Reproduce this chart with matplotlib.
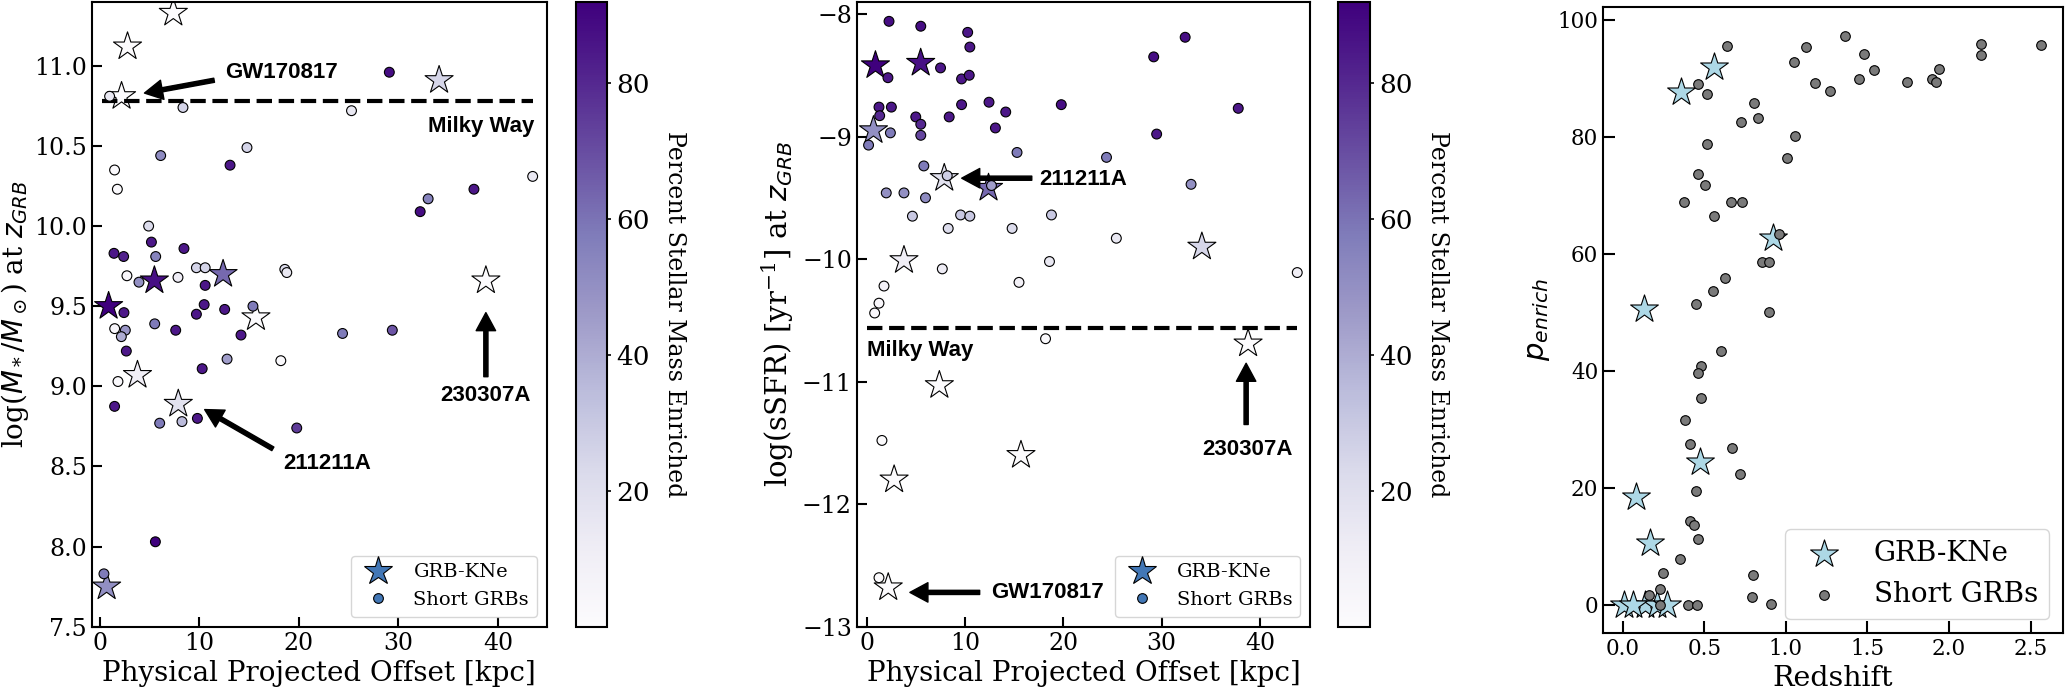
import matplotlib
matplotlib.use("Agg")
import matplotlib.pyplot as plt
from matplotlib.colors import Normalize
from matplotlib.lines import Line2D

# ---- GRB-KNe (stars), same 12 events in all three panels ----
kne_offset = [7.4, 2.8, 2.2, 34.1, 5.5, 12.4, 0.9, 15.7, 38.8, 3.8, 7.9, 0.7]
kne_logmass = [11.33, 11.12, 10.81, 10.91, 9.66, 9.70, 9.50, 9.43, 9.66, 9.07, 8.89, 7.75]
kne_ssfr = [-11.03, -11.80, -12.68, -9.90, -8.40, -9.42, -8.42, -11.60, -10.69, -10.01, -9.34, -8.95]
kne_penrich = [0, 0, 0, 24.5, 87.6, 62.7, 92.0, 0, 0, 10.5, 18.5, 50.5]
kne_redshift = [0.14, 0.21, 0.01, 0.476, 0.358, 0.919, 0.557, 0.27, 0.065, 0.165, 0.079, 0.13]

# ---- short GRBs (circles), mass panel ----
sgrb_offset_m = [1.0, 8.37, 29.1, 25.3, 6.13, 14.8, 13.1, 1.5, 1.78, 4.92, 5.2, 1.44, 2.41,
                 5.63, 8.47, 2.74, 3.95, 7.87, 9.72, 10.6, 10.6, 18.6, 18.8, 10.5, 9.72, 12.56,
                 15.4, 2.44, 5.53, 7.64, 14.2, 24.4, 29.4, 1.51, 2.58, 2.18, 2.68, 12.8, 18.2,
                 10.3, 1.84, 1.5, 6.03, 8.27, 9.82, 19.8, 5.6, 0.43, 43.5, 37.6, 33.0, 32.2]
sgrb_logmass = [10.81, 10.74, 10.96, 10.72, 10.44, 10.49, 10.38, 10.35, 10.23, 10.00, 9.90, 9.83,
                9.81, 9.81, 9.86, 9.69, 9.65, 9.68, 9.74, 9.74, 9.63, 9.73, 9.71, 9.51, 9.45,
                9.48, 9.50, 9.46, 9.39, 9.35, 9.32, 9.33, 9.35, 9.36, 9.35, 9.31, 9.22, 9.17,
                9.16, 9.11, 9.03, 8.875, 8.77, 8.78, 8.80, 8.74, 8.03, 7.83, 10.31, 10.23,
                10.17, 10.09]
sgrb_enrich_m = [15, 25, 88, 15, 52, 25, 85, 2, 2, 22, 85, 85, 82, 55, 85, 3, 50, 12, 25, 25,
                 85, 22, 15, 85, 85, 85, 58, 85, 58, 85, 85, 58, 68, 5, 48, 40, 85, 45, 2, 85,
                 2, 85, 58, 35, 85, 75, 92, 58, 15, 85, 55, 88]

# ---- short GRBs (circles), sSFR panel ----
sgrb_offset_s = [2.28, 5.51, 10.28, 10.5, 7.52, 9.66, 10.44, 2.17, 1.26, 2.52, 1.33, 5.0, 5.51,
                 5.51, 8.4, 9.66, 12.45, 14.15, 13.1, 2.42, 0.2, 5.82, 8.2, 2.0, 3.8, 5.99,
                 12.7, 15.3, 4.66, 9.56, 10.5, 8.3, 14.8, 7.7, 1.77, 1.26, 0.82, 15.5, 1.56,
                 1.26, 19.8, 32.4, 29.2, 37.8, 29.5, 24.4, 33.0, 18.8, 25.4, 18.6, 43.8, 18.2]
sgrb_ssfr = [-8.06, -8.10, -8.15, -8.27, -8.44, -8.53, -8.50, -8.52, -8.76, -8.76, -8.83, -8.84,
             -8.90, -8.99, -8.84, -8.74, -8.72, -8.80, -8.93, -8.97, -9.07, -9.24, -9.32, -9.46,
             -9.46, -9.50, -9.40, -9.13, -9.65, -9.64, -9.65, -9.75, -9.75, -10.08, -10.22,
             -10.36, -10.44, -10.19, -11.48, -12.60, -8.74, -8.19, -8.35, -8.77, -8.98, -9.17,
             -9.39, -9.64, -9.83, -10.02, -10.11, -10.65]
sgrb_enrich_s = [88, 88, 85, 85, 85, 85, 85, 85, 85, 85, 80, 85, 80, 72, 85, 85, 85, 85, 85, 58,
                 58, 58, 28, 50, 50, 52, 45, 58, 30, 30, 30, 22, 22, 12, 8, 3, 3, 8, 1, 1, 88,
                 88, 88, 85, 85, 58, 50, 30, 15, 15, 10, 2]

# ---- short GRBs (circles), redshift panel ----
sgrb_redshift = [0.638, 0.462, 0.52, 0.807, 0.831, 0.724, 1.059, 1.008, 0.52, 0.462, 0.502, 0.374,
                 0.663, 0.73, 0.561, 0.957, 0.856, 0.898, 0.628, 0.551, 0.451, 0.898, 0.602,
                 1.126, 1.049, 1.177, 1.366, 1.482, 1.543, 1.451, 1.268, 1.742, 1.898, 1.939,
                 1.923, 2.199, 2.199, 2.565, 0.482, 0.46, 0.482, 0.669, 0.72, 0.451, 0.41, 0.435,
                 0.462, 0.384, 0.41, 0.354, 0.246, 0.226, 0.16, 0.226, 0.40, 0.455, 0.797, 0.791,
                 0.909]
sgrb_penrich = [95.6, 89.0, 87.3, 85.8, 83.2, 82.5, 80.2, 76.4, 78.8, 73.6, 71.7, 68.8, 68.9, 68.9,
                66.4, 63.4, 58.7, 58.7, 55.8, 53.7, 51.5, 50.0, 43.4, 95.3, 92.8, 89.2, 97.2, 94.2,
                91.4, 89.9, 87.8, 89.3, 89.9, 91.6, 89.3, 95.8, 94.0, 95.7, 40.8, 39.7, 35.4, 26.9,
                22.3, 19.5, 14.4, 13.7, 11.2, 31.6, 27.5, 7.9, 5.4, 2.8, 1.7, 0, 0, 0, 5.1, 1.4,
                0.1]

milky_way_logmass = 10.78
milky_way_ssfr = -10.56

plt.rcParams["font.family"] = "serif"
plt.rcParams["font.serif"] = ["DejaVu Serif"]
plt.rcParams["mathtext.fontset"] = "custom"
plt.rcParams["mathtext.rm"] = "DejaVu Serif"
plt.rcParams["mathtext.it"] = "DejaVu Sans:italic"
plt.rcParams["mathtext.bf"] = "DejaVu Sans:bold"

cmap = plt.get_cmap("Purples")
norm = Normalize(vmin=0, vmax=92)
bold = dict(family="Liberation Sans", weight="bold", fontsize=16)
arrow = dict(facecolor="black", edgecolor="black", width=3, headwidth=14,
             headlength=13, shrink=0)
legend_blue = "#4277b6"

fig = plt.figure(figsize=(20.65, 6.89), dpi=100)
ax1 = fig.add_axes([0.0444, 0.0904, 0.2203, 0.9071])
cax1 = fig.add_axes([0.2789, 0.0904, 0.0150, 0.9071])
ax2 = fig.add_axes([0.4149, 0.0904, 0.2195, 0.9071])
cax2 = fig.add_axes([0.6479, 0.0904, 0.0155, 0.9071])
ax3 = fig.add_axes([0.7763, 0.0813, 0.2228, 0.9085])


def style_axes(ax, size, length):
    ax.tick_params(direction="in", length=length, width=1.5, labelsize=size,
                   top=False, right=False)
    for sp in ax.spines.values():
        sp.set_linewidth(1.5)


def kne_legend(ax):
    handles = [
        Line2D([], [], ls="none", marker="*", ms=21, mfc=legend_blue, mec="black", mew=0.8),
        Line2D([], [], ls="none", marker="o", ms=7, mfc=legend_blue, mec="black", mew=0.8),
    ]
    ax.legend(handles, ["GRB-KNe", "Short GRBs"], loc="lower right", fontsize=14)


def colorbar(sc, cax):
    cb = fig.colorbar(sc, cax=cax)
    cb.set_ticks([20, 40, 60, 80])
    cax.tick_params(labelsize=19, length=3, width=1.2)
    cb.outline.set_linewidth(1.5)
    cb.set_label("Percent Stellar Mass Enriched", rotation=270, labelpad=26, fontsize=17)


# ---------------- panel 1: stellar mass ----------------
ax1.scatter(kne_offset, kne_logmass, c=kne_penrich, cmap=cmap, norm=norm, marker="*",
            s=450, edgecolors="black", linewidths=0.8, zorder=2)
sc1 = ax1.scatter(sgrb_offset_m, sgrb_logmass, c=sgrb_enrich_m, cmap=cmap, norm=norm,
                  marker="o", s=50, edgecolors="black", linewidths=0.8, zorder=3)
ax1.hlines(milky_way_logmass, 0.2, 43.5, colors="black", linestyles="--", lw=3)
ax1.text(43.7, 10.62, "Milky Way", ha="right", va="center", **bold)
ax1.annotate("", xy=(4.5, 10.83), xytext=(11.5, 10.91), arrowprops=arrow)
ax1.text(12.6, 10.96, "GW170817", ha="left", va="center", **bold)
ax1.annotate("", xy=(10.55, 8.855), xytext=(17.4, 8.61), arrowprops=arrow)
ax1.text(18.4, 8.52, "211211A", ha="left", va="center", **bold)
ax1.annotate("", xy=(38.8, 9.46), xytext=(38.8, 9.06), arrowprops=arrow)
ax1.text(38.8, 8.94, "230307A", ha="center", va="center", **bold)
ax1.set_xlim(-0.8, 44.9)
ax1.set_ylim(7.5, 11.4)
ax1.set_xticks([0, 10, 20, 30, 40])
ax1.set_yticks([7.5, 8.0, 8.5, 9.0, 9.5, 10.0, 10.5, 11.0])
ax1.set_xlabel("Physical Projected Offset [kpc]", fontsize=20)
ax1.set_ylabel(r"log($M_*/M_\odot$) at $z_{GRB}$", fontsize=20, labelpad=2)
style_axes(ax1, 17, 7)
kne_legend(ax1)
colorbar(sc1, cax1)

# ---------------- panel 2: sSFR ----------------
ax2.scatter(kne_offset, kne_ssfr, c=kne_penrich, cmap=cmap, norm=norm, marker="*",
            s=450, edgecolors="black", linewidths=0.8, zorder=2)
sc2 = ax2.scatter(sgrb_offset_s, sgrb_ssfr, c=sgrb_enrich_s, cmap=cmap, norm=norm,
                  marker="o", s=50, edgecolors="black", linewidths=0.8, zorder=3)
ax2.hlines(milky_way_ssfr, 0.0, 43.8, colors="black", linestyles="--", lw=3)
ax2.text(0.0, -10.75, "Milky Way", ha="left", va="center", **bold)
ax2.annotate("", xy=(9.67, -9.34), xytext=(16.8, -9.34), arrowprops=arrow)
ax2.text(17.6, -9.35, "211211A", ha="left", va="center", **bold)
ax2.annotate("", xy=(4.4, -12.72), xytext=(11.5, -12.72), arrowprops=arrow)
ax2.text(12.7, -12.72, "GW170817", ha="left", va="center", **bold)
ax2.annotate("", xy=(38.6, -10.85), xytext=(38.6, -11.35), arrowprops=arrow)
ax2.text(38.7, -11.55, "230307A", ha="center", va="center", **bold)
ax2.set_xlim(-1.0, 45.1)
ax2.set_ylim(-13, -7.9)
ax2.set_xticks([0, 10, 20, 30, 40])
ax2.set_yticks([-13, -12, -11, -10, -9, -8])
ax2.set_xlabel("Physical Projected Offset [kpc]", fontsize=20)
ax2.set_ylabel(r"log(sSFR) [yr$^{-1}$] at $z_{GRB}$", fontsize=21)
style_axes(ax2, 17, 7)
kne_legend(ax2)
colorbar(sc2, cax2)

# ---------------- panel 3: p_enrich vs redshift ----------------
ax3.scatter(kne_redshift, kne_penrich, marker="*", s=440, color="#add8e6",
            edgecolors="black", linewidths=0.8, zorder=2, label="GRB-KNe")
ax3.scatter(sgrb_redshift, sgrb_penrich, marker="o", s=48, color="#7a7a7a",
            edgecolors="black", linewidths=0.8, zorder=3, label="Short GRBs")
ax3.set_xlim(-0.12, 2.70)
ax3.set_ylim(-4.8, 102.2)
ax3.set_xticks([0.0, 0.5, 1.0, 1.5, 2.0, 2.5])
ax3.set_yticks([0, 20, 40, 60, 80, 100])
ax3.set_xlabel("Redshift", fontsize=20.5)
ax3.set_ylabel(r"$p_{enrich}$", fontsize=21)
style_axes(ax3, 15.5, 8.5)
ax3.legend(loc="lower right", fontsize=20)

fig.savefig("out.png", dpi=100)
